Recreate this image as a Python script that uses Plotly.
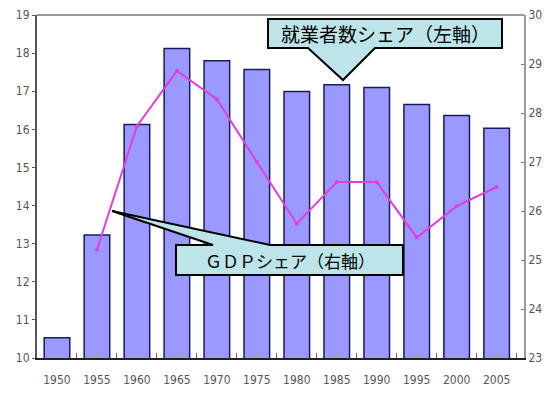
import plotly.graph_objects as go

years = ["1950", "1955", "1960", "1965", "1970", "1975", "1980", "1985", "1990", "1995", "2000", "2005"]
employment_share = [10.53, 13.23, 16.13, 18.12, 17.8, 17.57, 16.99, 17.17, 17.1, 16.65, 16.36, 16.03]
gdp_years = ["1955", "1960", "1965", "1970", "1975", "1980", "1985", "1990", "1995", "2000", "2005"]
gdp_share = [25.21, 27.73, 28.86, 28.28, 27.0, 25.74, 26.59, 26.59, 25.46, 26.1, 26.49]
left_ticks = list(range(10, 20))
right_ticks = list(range(23, 31))

# the page body has an 8px margin, so the figure is drawn from (8, 8)
OFF = 8
W, H = 552 - 2 * OFF, 402 - 2 * OFF
L, R, T, B = 37, 524, 15, 358  # plot area in window pixels

def px(x, y):
    return ((x - L) / (R - L), (B - y) / (B - T))

def path(points):
    pts = [px(x, y) for x, y in points]
    return "M " + " L ".join(f"{a:.4f},{b:.4f}" for a, b in pts) + " Z"

tick_font = dict(family="Liberation Sans Narrow, DejaVu Sans Condensed, Arial Narrow, sans-serif", size=12, color="#555555")

fig = go.Figure()
fig.add_trace(go.Bar(
    x=years, y=employment_share, name="就業者数シェア",
    marker=dict(color="#9999FF", line=dict(color="#1a1a5e", width=1.5)),
    yaxis="y",
))
fig.add_trace(go.Scatter(
    x=gdp_years, y=gdp_share, name="GDPシェア", mode="lines+markers",
    line=dict(color="#E040D8", width=2), marker=dict(size=4, color="#E040D8"),
    yaxis="y2",
))

fig.update_layout(
    width=W, height=H,
    margin=dict(l=L - OFF, r=(552 - OFF) - R, t=T - OFF, b=(402 - OFF) - B, autoexpand=False),
    paper_bgcolor="white", plot_bgcolor="white",
    showlegend=False, bargap=0.36,
    xaxis=dict(type="category", tickfont=tick_font, ticks="inside", ticklen=5,
               tickson="boundaries", tickcolor="#666666", showline=True, automargin=False,
               ticklabelstandoff=10,
               linecolor="#222222", linewidth=2, showgrid=False, mirror=False),
    yaxis=dict(range=[10, 19], tickvals=left_ticks, tickfont=tick_font, ticks="outside",
               ticklen=3, tickcolor="#555555", showline=True, linecolor="#555555", linewidth=2,
               showgrid=False, zeroline=False, automargin=False),
    yaxis2=dict(range=[23, 30], tickvals=right_ticks, tickfont=tick_font, overlaying="y",
                side="right", ticks="inside", ticklen=3, tickcolor="#777777", showline=True,
                linecolor="#999999", linewidth=2, showgrid=False, zeroline=False, automargin=False),
    shapes=[
        dict(type="line", xref="paper", yref="paper", x0=0, x1=1, y0=1, y1=1,
             line=dict(color="#999999", width=2)),
        dict(type="path", xref="paper", yref="paper",
             path=path([(268, 19), (502, 19), (502, 48), (375, 48), (343, 80), (308, 48), (268, 48)]),
             fillcolor="#BDE4E8", line=dict(color="black", width=2)),
        dict(type="path", xref="paper", yref="paper",
             path=path([(176, 245), (213, 245), (112, 211), (270, 245), (403, 245), (403, 275), (176, 275)]),
             fillcolor="#BDE4E8", line=dict(color="black", width=2)),
    ],
)

cx1, cy1 = px(385, 34)
cx2, cy2 = px(290, 260)
fig.add_annotation(x=cx1, y=cy1, xref="paper", yref="paper", showarrow=False,
                   xanchor="center", yanchor="middle",
                   text="就業者数シェア（左軸）", font=dict(family="Noto Sans CJK JP", size=19, color="black"))
fig.add_annotation(x=cx2, y=cy2, xref="paper", yref="paper", showarrow=False,
                   xanchor="center", yanchor="middle",
                   text="ＧＤＰシェア（右軸）", font=dict(family="Noto Sans CJK JP", size=17, color="black"))

fig.write_html("out.html")
